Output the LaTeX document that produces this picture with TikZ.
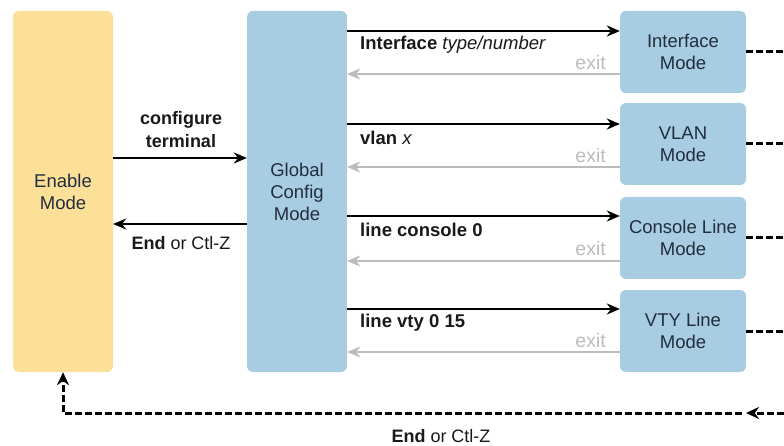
\documentclass[tikz,border=0pt]{standalone}
\usepackage{fontspec}
\setmainfont{Liberation Sans}
\usetikzlibrary{arrows.meta}
\definecolor{enablefill}{RGB}{253,224,152}
\definecolor{modefill}{RGB}{168,204,226}
\definecolor{modetext}{RGB}{32,46,62}
\definecolor{exitgray}{RGB}{188,188,188}
\definecolor{labeltext}{RGB}{25,25,25}

\begin{document}
\begin{tikzpicture}[x=1pt,y=-1pt,
  boxbase/.style={rounded corners=6pt, draw=none, align=center, inner sep=0pt,
    text=modetext, font=\fontsize{18.5}{22}\selectfont},
  enablebox/.style={boxbase, fill=enablefill, minimum width=100pt, minimum height=361pt},
  globalbox/.style={boxbase, fill=modefill, minimum width=100pt, minimum height=361pt},
  modebox/.style={boxbase, fill=modefill, minimum width=126pt, minimum height=82pt},
  cmd/.style={line width=2.8pt, draw=black, -{Stealth[length=13pt,width=11pt]}},
  back/.style={line width=2.5pt, draw=exitgray, -{Stealth[length=13pt,width=11pt]}},
  dashline/.style={line width=3pt, draw=black, dash pattern=on 7pt off 3pt},
  cmdlabel/.style={anchor=west, inner sep=0pt, text=labeltext, font=\fontsize{18.5}{21}\selectfont},
  exitlabel/.style={anchor=east, inner sep=0pt, text=exitgray, font=\fontsize{19.5}{20}\selectfont},
  centerlabel/.style={align=center, inner sep=0pt, text=labeltext, font=\fontsize{18}{23}\selectfont}
]
\useasboundingbox (0,0) rectangle (784,446);

% main mode boxes
\node[enablebox] (enable) at (63,191.5) {Enable\\Mode};
\node[globalbox] (global) at (297,191.5) {Global\\Config\\Mode};

% sub-mode boxes
\node[modebox] (iface)   at (683,52)  {Interface\\Mode};
\node[modebox] (vlan)    at (683,144) {VLAN\\Mode};
\node[modebox] (console) at (683,238) {Console Line\\Mode};
\node[modebox] (vty)     at (683,331) {VTY Line\\Mode};

% enable <-> global
\draw[cmd] (enable.east |- 0,158) -- (global.west |- 0,158);
\node[centerlabel] (cfgterm) at (181,130) {\textbf{configure}\\\textbf{terminal}};
\draw[cmd] (global.west |- 0,224) -- (enable.east |- 0,224);
\node[centerlabel] (endlbl) at (181,243) {\textbf{End} or Ctl-Z};

% global -> interface
\draw[cmd] (global.east |- 0,31) -- (iface.west |- 0,31);
\node[cmdlabel] (ifacecmd) at (360,45) {\textbf{Interface} \textit{type/number}};
\draw[back] (iface.west |- 0,74) -- (global.east |- 0,74);
\node[exitlabel] (ifaceexit) at (606,63) {exit};

% global -> vlan
\draw[cmd] (global.east |- 0,124) -- (vlan.west |- 0,124);
\node[cmdlabel] (vlancmd) at (360,138) {\textbf{vlan} \textit{x}};
\draw[back] (vlan.west |- 0,167) -- (global.east |- 0,167);
\node[exitlabel] (vlanexit) at (606,156) {exit};

% global -> console line
\draw[cmd] (global.east |- 0,216) -- (console.west |- 0,216);
\node[cmdlabel] (concmd) at (360,230) {\textbf{line console 0}};
\draw[back] (console.west |- 0,261) -- (global.east |- 0,261);
\node[exitlabel] (conexit) at (606,249) {exit};

% global -> vty line
\draw[cmd] (global.east |- 0,309) -- (vty.west |- 0,309);
\node[cmdlabel] (vtycmd) at (360,323) {\textbf{line vty 0 15}};
\draw[back] (vty.west |- 0,352) -- (global.east |- 0,352);
\node[exitlabel] (vtyexit) at (606,341) {exit};

% dashed exits leaving each sub-mode
\coordinate (edgeA) at (784,52);
\coordinate (edgeB) at (784,144);
\coordinate (edgeC) at (784,238);
\coordinate (edgeD) at (784,331);
\draw[dashline] (iface.east)   -- (edgeA);
\draw[dashline] (vlan.east)    -- (edgeB);
\draw[dashline] (console.east) -- (edgeC);
\draw[dashline] (vty.east)     -- (edgeD);

% dashed return to enable mode
\coordinate (retR)   at (784,413);
\coordinate (retTip) at (746,413);
\coordinate (retGo)  at (742,413);
\draw[dashline, -{Stealth[length=13pt,width=12pt]}] (retR) -- (retTip);
\draw[dashline, -{Stealth[length=13pt,width=12pt]}] (retGo) -- (enable.south |- retR) -- (enable.south);
\node[centerlabel] (retlbl) at (441,436) {\textbf{End} or Ctl-Z};
\end{tikzpicture}
\end{document}
